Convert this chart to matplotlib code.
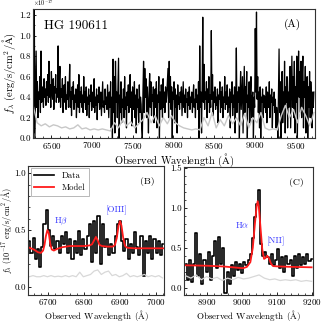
import numpy as np
import matplotlib
matplotlib.use("Agg")
import matplotlib.pyplot as plt
from matplotlib.ticker import MultipleLocator

plt.rcParams['font.family'] = ['cmr10', 'DejaVu Serif']
plt.rcParams['mathtext.fontset'] = 'cm'
plt.rcParams['axes.formatter.use_mathtext'] = True
plt.rcParams['axes.unicode_minus'] = False

# ---------------- Panel A: full spectrum ----------------
a_wave_start, a_wave_end = 6275, 9725
a_flux = [
    0.55, 0.05, 1.26, 0.0, 0.40, 0.85, 0.30, 0.55, 0.20, 0.45, 0.38, 0.60, 0.25, 0.85, 0.35, 0.50, 0.42, 0.30, 0.58, 0.40,
    0.48, 0.32, 0.55, 0.42, 0.62, 0.35, 0.75, 0.40, 0.52, 0.30, 0.65, 0.45, 0.38, 0.58, 0.28, 0.50, 0.44, 0.62, 0.35, 0.48,
    0.40, 0.90, 0.35, 0.55, 0.70, 0.30, 0.48, 0.40, 0.58, 0.25, 0.45, 0.52, 0.35, 0.60, 0.28, 0.42, 0.38, 0.55, 0.30, 0.47,
    0.72, 0.30, 0.45, 0.22, 0.50, 0.38, 0.55, 0.28, 0.42, 0.35, 0.48, 0.20, 0.40, 0.52, 0.30, 0.62, 0.25, 0.45, 0.35, 0.50,
    0.30, 0.42, 0.25, 0.60, 0.35, 0.45, 0.28, 0.50, 0.22, 0.40, 0.33, 0.48, 0.20, 0.42, 0.36, 0.52, 0.27, 0.38, 0.45, 0.30,
    0.58, 0.25, 0.40, 0.32, 0.48, 0.18, 0.42, 0.35, 0.50, 0.28, 0.38, 0.45, 0.22, 0.40, 0.55, 0.30, 0.36, 0.25, 0.48, 0.33,
    0.40, 0.28, 0.52, 0.35, 0.20, 0.45, 0.30, 0.55, 0.10, 0.40, 0.0, 0.77, 0.25, 0.60, 0.05, 0.75, 0.35, 0.45, 0.20, 0.50,
    0.78, 0.0, 0.42, 0.25, 0.55, 0.15, 0.38, 0.30, 0.48, 0.20, 0.60, 0.28, 0.40, 0.10, 0.45, 0.32, 0.52, 0.25, 0.38, 0.62,
    0.30, 0.45, 0.12, 0.50, 0.35, 0.28, 0.55, 0.20, 0.42, 0.05, 0.48, 0.30, 0.38, 0.15, 0.52, 0.25, 0.40, 0.33, 0.10, 0.0,
    0.45, 0.75, 0.25, 0.68, 0.40, 0.58, 0.20, 0.50, 0.35, 0.05, 0.45, 0.63, 0.30, 0.55, 0.22, 0.42, 0.36, 0.50, 0.15, 0.40,
    0.48, 0.30, 0.55, 0.10, 0.42, 0.35, 0.60, 0.0, 0.45, 0.28, 0.52, 0.38, 0.20, 0.58, 0.30, 0.45, 0.25, 0.50, 0.35, 0.42,
    0.55, 0.68, 0.20, 0.75, 0.35, 0.60, 0.28, 0.50, 0.0, 0.45, 0.38, 0.55, 0.15, 0.48, 0.30, 0.42, 0.05, 0.52, 0.33, 0.40,
    0.28, 0.45, 0.35, 0.50, 0.22, 0.40, 0.55, 0.30, 0.42, 0.25, 0.48, 0.35, 0.38, 0.20, 0.45, 0.32, 0.50, 0.28, 0.40, 0.35,
    0.45, 0.25, 0.40, 0.52, 0.30, 0.38, 0.20, 0.48, 0.35, 0.42, 0.28, 0.55, 0.0, 0.90, 0.30, 0.45, 0.05, 0.50, 1.18, 0.35,
    0.72, 0.28, 0.45, 0.38, 0.55, 0.20, 0.48, 0.35, 0.60, 0.25, 0.42, 0.30, 1.05, 0.38, 0.62, 0.22, 0.45, 0.35, 0.50, 0.28,
    0.40, 0.32, 0.48, 0.15, 0.42, 0.38, 0.55, 0.25, 0.45, 0.30, 0.50, 0.20, 0.40, 0.35, 0.60, 0.28, 0.45, 0.33, 0.52, 0.25,
    0.40, 0.30, 0.48, 0.10, 0.45, 0.35, 0.55, 0.22, 0.42, 0.30, 0.50, 0.05, 0.38, 0.88, 0.25, 0.45, 0.35, 0.50, 0.0, 0.40,
    0.65, 0.28, 0.45, 0.60, 0.05, 0.38, 0.70, 0.25, 0.50, 0.35, 0.65, 0.0, 0.42, 0.30, 0.55, 0.15, 0.45, 0.60, 0.20, 0.38,
    0.45, 0.0, 0.40, 0.30, 1.07, 0.45, 1.23, 0.38, 0.60, 0.25, 0.45, 0.10, 0.50, 0.0, 0.40, 0.35, 0.48, 0.20, 0.42, 0.30,
    0.40, 0.25, 0.50, 0.15, 0.45, 0.35, 0.30, 0.55, 0.20, 0.42, 0.35, 0.48, 0.10, 0.40, 0.32, 0.45, 0.25, 0.38, 0.10, 0.30,
    0.20, 0.0, 0.45, 0.87, 0.25, 0.55, 0.0, 0.40, 0.65, 0.15, 0.45, 0.30, 0.75, 0.05, 0.50, 0.35, 0.60, 0.10, 0.45, 0.30,
    0.55, 0.70, 0.10, 0.45, 0.80, 0.30, 0.60, 0.20, 0.75, 0.05, 0.50, 0.35, 0.80, 0.0, 0.60, 0.85, 0.40, 0.65, 0.25, 0.75,
    0.20, 0.60, 0.80, 0.10, 0.55, 0.40, 0.70, 0.05, 0.45, 0.60, 0.0, 0.50, 0.30, 0.65, 0.20, 0.55, 0.40, 0.10, 0.45, 0.30,
    0.45,
]
a_err = [
    0.32, 0.15, 0.12, 0.14, 0.11, 0.13, 0.12, 0.10, 0.11, 0.09,
    0.10, 0.13, 0.09, 0.10, 0.08, 0.09, 0.08, 0.09, 0.08, 0.07,
    0.15, 0.10, 0.18, 0.12, 0.16, 0.10, 0.14, 0.18, 0.25, 0.15,
    0.22, 0.12, 0.20, 0.14, 0.22, 0.15, 0.12, 0.10, 0.09, 0.08,
    0.09, 0.08, 0.20, 0.12, 0.25, 0.10, 0.18, 0.12, 0.22, 0.14,
    0.20, 0.12, 0.24, 0.10, 0.20, 0.15, 0.25, 0.10, 0.08, 0.09,
    0.08, 0.22, 0.32, 0.20, 0.28, 0.15, 0.30, 0.22, 0.12, 0.25,
]

# ---------------- Panel B: Hbeta / [OIII] ----------------
b_wave_start, b_wave_end = 6648, 7020
b_flux = [
    0.40, 0.30, 0.43, 0.25, 0.33, 0.18, 0.35, 0.55, 0.68, 0.50,
    0.36, 0.45, 0.33, 0.40, 0.30, 0.45, 0.38, 0.48, 0.30, 0.42,
    0.25, 0.40, 0.30, 0.49, 0.28, 0.42, 0.33, 0.45, 0.55, 0.22,
    0.58, 0.30, 0.62, 0.20, 0.55, 0.35, 0.42, 0.28, 0.38, 0.30,
    0.45, 0.55, 0.58, 0.40, 0.32, 0.42, 0.25, 0.38, 0.30, 0.48,
    0.35, 0.28, 0.45, 0.10, 0.40, 0.30, 0.45, 0.25, 0.42, 0.30,
    0.40, 0.28, 0.38,
]
b_err = [
    0.09, 0.10, 0.09, 0.09, 0.10, 0.09, 0.10, 0.09, 0.095, 0.09,
    0.10, 0.09, 0.10, 0.09, 0.13, 0.09, 0.10, 0.11, 0.14, 0.15,
    0.11, 0.13, 0.14, 0.10, 0.11, 0.09, 0.10, 0.12, 0.09, 0.10,
    0.09, 0.10, 0.11, 0.09, 0.10, 0.09, 0.10, 0.08,
]
b_model_wave = [6648, 6660, 6672, 6680, 6686, 6690, 6694, 6698, 6702, 6706,
                6710, 6716, 6725, 6740, 6760, 6780, 6800, 6815, 6822, 6828,
                6833, 6838, 6843, 6850, 6865, 6880, 6886, 6891, 6896, 6900,
                6904, 6909, 6914, 6920, 6940, 6970, 7000, 7022]
b_model_flux = [0.345, 0.33, 0.305, 0.30, 0.32, 0.37, 0.45, 0.50, 0.47, 0.38,
                0.33, 0.32, 0.335, 0.35, 0.36, 0.36, 0.36, 0.365, 0.375, 0.41,
                0.44, 0.41, 0.37, 0.36, 0.355, 0.355, 0.37, 0.43, 0.54, 0.58,
                0.54, 0.43, 0.36, 0.345, 0.34, 0.34, 0.34, 0.34]

# ---------------- Panel C: Halpha / [NII] ----------------
c_wave_start, c_wave_end = 8840, 9200
c_flux = [
    0.30, 0.10, 0.35, 0.07, 0.30, 0.68, 0.15, 0.42, 0.05, 0.35,
    0.20, 0.45, 0.10, 0.40, 0.58, 0.25, 0.63, 0.30, 0.50, -0.07,
    0.20, 0.05, 0.28, 0.15, 0.32, 0.22, 0.30, 0.18, 0.32, 0.28,
    0.35, 0.42, 0.62, 0.88, 1.05, 1.22, 0.55, 0.40, 0.45, 0.38,
    0.30, 0.42, 0.28, 0.35, 0.48, 0.25, 0.38, 0.20, 0.40, 0.30,
    0.35, 0.15, 0.40, 0.25, 0.42, 0.28, 0.38, 0.30, 0.42, 0.33,
    0.36,
]
c_err = [0.15, 0.12, 0.16, 0.10, 0.14, 0.11, 0.13, 0.09, 0.12, 0.10,
         0.13, 0.11, 0.12, 0.14, 0.16, 0.12, 0.10, 0.11, 0.09, 0.10,
         0.09, 0.10, 0.08, 0.09, 0.08]
c_model_wave = [8840, 8900, 8950, 9000, 9005, 9015, 9025, 9032, 9038, 9043,
                9046, 9049, 9054, 9059, 9064, 9068, 9073, 9078, 9084, 9090,
                9110, 9150, 9200]
c_model_flux = [0.28, 0.275, 0.265, 0.245, 0.245, 0.26, 0.32, 0.50, 0.80, 1.02,
                1.08, 1.02, 0.75, 0.48, 0.36, 0.37, 0.40, 0.37, 0.30, 0.27,
                0.265, 0.26, 0.255]

a_wave = np.linspace(a_wave_start, a_wave_end, len(a_flux))
a_err_wave = np.linspace(a_wave_start, a_wave_end, len(a_err))
b_wave = np.linspace(b_wave_start, b_wave_end, len(b_flux))
b_err_wave = np.linspace(b_wave_start, b_wave_end - 2, len(b_err))
c_wave = np.linspace(c_wave_start, c_wave_end, len(c_flux))
c_err_wave = np.linspace(c_wave_start, c_wave_end, len(c_err))

blue = '#3a3aff'
grey = '#c8c8c8'
AA = r'$\mathrm{\AA}$'

fig = plt.figure(figsize=(3.22, 3.22), dpi=100)

def style(ax, fs=6.5):
    ax.tick_params(direction='in', labelsize=fs, length=2.5, width=0.6, pad=1.5)
    ax.tick_params(which='minor', direction='in', length=1.3, width=0.5)
    for s in ax.spines.values():
        s.set_linewidth(0.8)
        s.set_color('#333333')

# Panel A
axA = fig.add_axes([0.102, 0.571, 0.876, 0.401])
axA.plot(a_wave, a_flux, color='k', lw=0.9)
axA.plot(a_err_wave, a_err, color=grey, lw=1.0)
axA.set_xlim(6272, 9738)
axA.set_ylim(0, 1.26)
axA.xaxis.set_major_locator(MultipleLocator(500))
axA.xaxis.set_minor_locator(MultipleLocator(100))
axA.yaxis.set_major_locator(MultipleLocator(0.2))
axA.yaxis.set_minor_locator(MultipleLocator(0.1))
axA.yaxis.set_major_formatter(plt.FormatStrFormatter('%.1f'))
style(axA)
axA.set_xlabel('Observed Wavelength (' + AA + ')', fontsize=7.5, labelpad=0)
axA.set_ylabel(r'$f_\lambda$ (erg/s/cm$^2$/' + AA + ')', fontsize=7.5, labelpad=1)
axA.text(0.0, 1.005, r'$\times10^{-17}$', transform=axA.transAxes, fontsize=4.5,
         ha='left', va='bottom')
axA.text(0.04, 0.87, 'HG 190611', transform=axA.transAxes, fontsize=9.5,
         ha='left', va='center')
axA.text(0.95, 0.88, '(A)', transform=axA.transAxes, fontsize=8,
         ha='right', va='center')

# Panel B
axB = fig.add_axes([0.088, 0.084, 0.422, 0.401])
axB.step(b_wave, b_flux, where='mid', color='k', lw=1.2, label='Data')
axB.plot(b_model_wave, b_model_flux, color='#ff1a1a', lw=1.3, label='Model')
axB.plot(b_err_wave, b_err, color='#d8d8d8', lw=0.9)
axB.set_xlim(6645, 7023)
axB.set_ylim(-0.07, 1.065)
axB.xaxis.set_major_locator(MultipleLocator(100))
axB.xaxis.set_minor_locator(MultipleLocator(20))
axB.yaxis.set_major_locator(MultipleLocator(0.5))
axB.yaxis.set_minor_locator(MultipleLocator(0.1))
axB.yaxis.set_major_formatter(plt.FormatStrFormatter('%.1f'))
style(axB)
axB.set_xlabel('Observed Wavelength (' + AA + ')', fontsize=6.5, labelpad=0.5)
axB.set_ylabel(r'$f_\lambda$ ($10^{-17}$ erg/s/cm$^2$/' + AA + ')', fontsize=5.9, labelpad=0.3)
leg = axB.legend(loc='upper left', fontsize=6.3, handlelength=2.2, frameon=True,
                 borderpad=0.4, labelspacing=0.4, handletextpad=0.9,
                 borderaxespad=0.3, fancybox=False, edgecolor='#999999')
leg.get_frame().set_linewidth(0.6)
axB.text(0.93, 0.88, '(B)', transform=axB.transAxes, fontsize=7, ha='right', va='center')
axB.text(6737, 0.575, r'H$\beta$', color=blue, fontsize=6.5, ha='center', va='center')
axB.text(6890, 0.67, '[OIII]', color=blue, fontsize=6.5, ha='center', va='center')

# Panel C
axC = fig.add_axes([0.571, 0.084, 0.400, 0.398])
axC.step(c_wave, c_flux, where='mid', color='k', lw=1.2)
axC.plot(c_model_wave, c_model_flux, color='#ff1a1a', lw=1.3)
axC.plot(c_err_wave, c_err, color='#d8d8d8', lw=0.9)
axC.set_xlim(8835, 9203)
axC.set_ylim(-0.09, 1.51)
axC.xaxis.set_major_locator(MultipleLocator(100))
axC.xaxis.set_minor_locator(MultipleLocator(20))
axC.yaxis.set_major_locator(MultipleLocator(0.5))
axC.yaxis.set_minor_locator(MultipleLocator(0.1))
axC.yaxis.set_major_formatter(plt.FormatStrFormatter('%.1f'))
style(axC)
axC.set_xlabel('Observed Wavelength (' + AA + ')', fontsize=6.5, labelpad=0.5)
axC.text(0.93, 0.88, '(C)', transform=axC.transAxes, fontsize=7, ha='right', va='center')
axC.text(9002, 0.78, r'H$\alpha$', color=blue, fontsize=6.5, ha='center', va='center')
axC.text(9099, 0.58, '[NII]', color=blue, fontsize=6.5, ha='center', va='center')

fig.savefig('out.png', dpi=100)
